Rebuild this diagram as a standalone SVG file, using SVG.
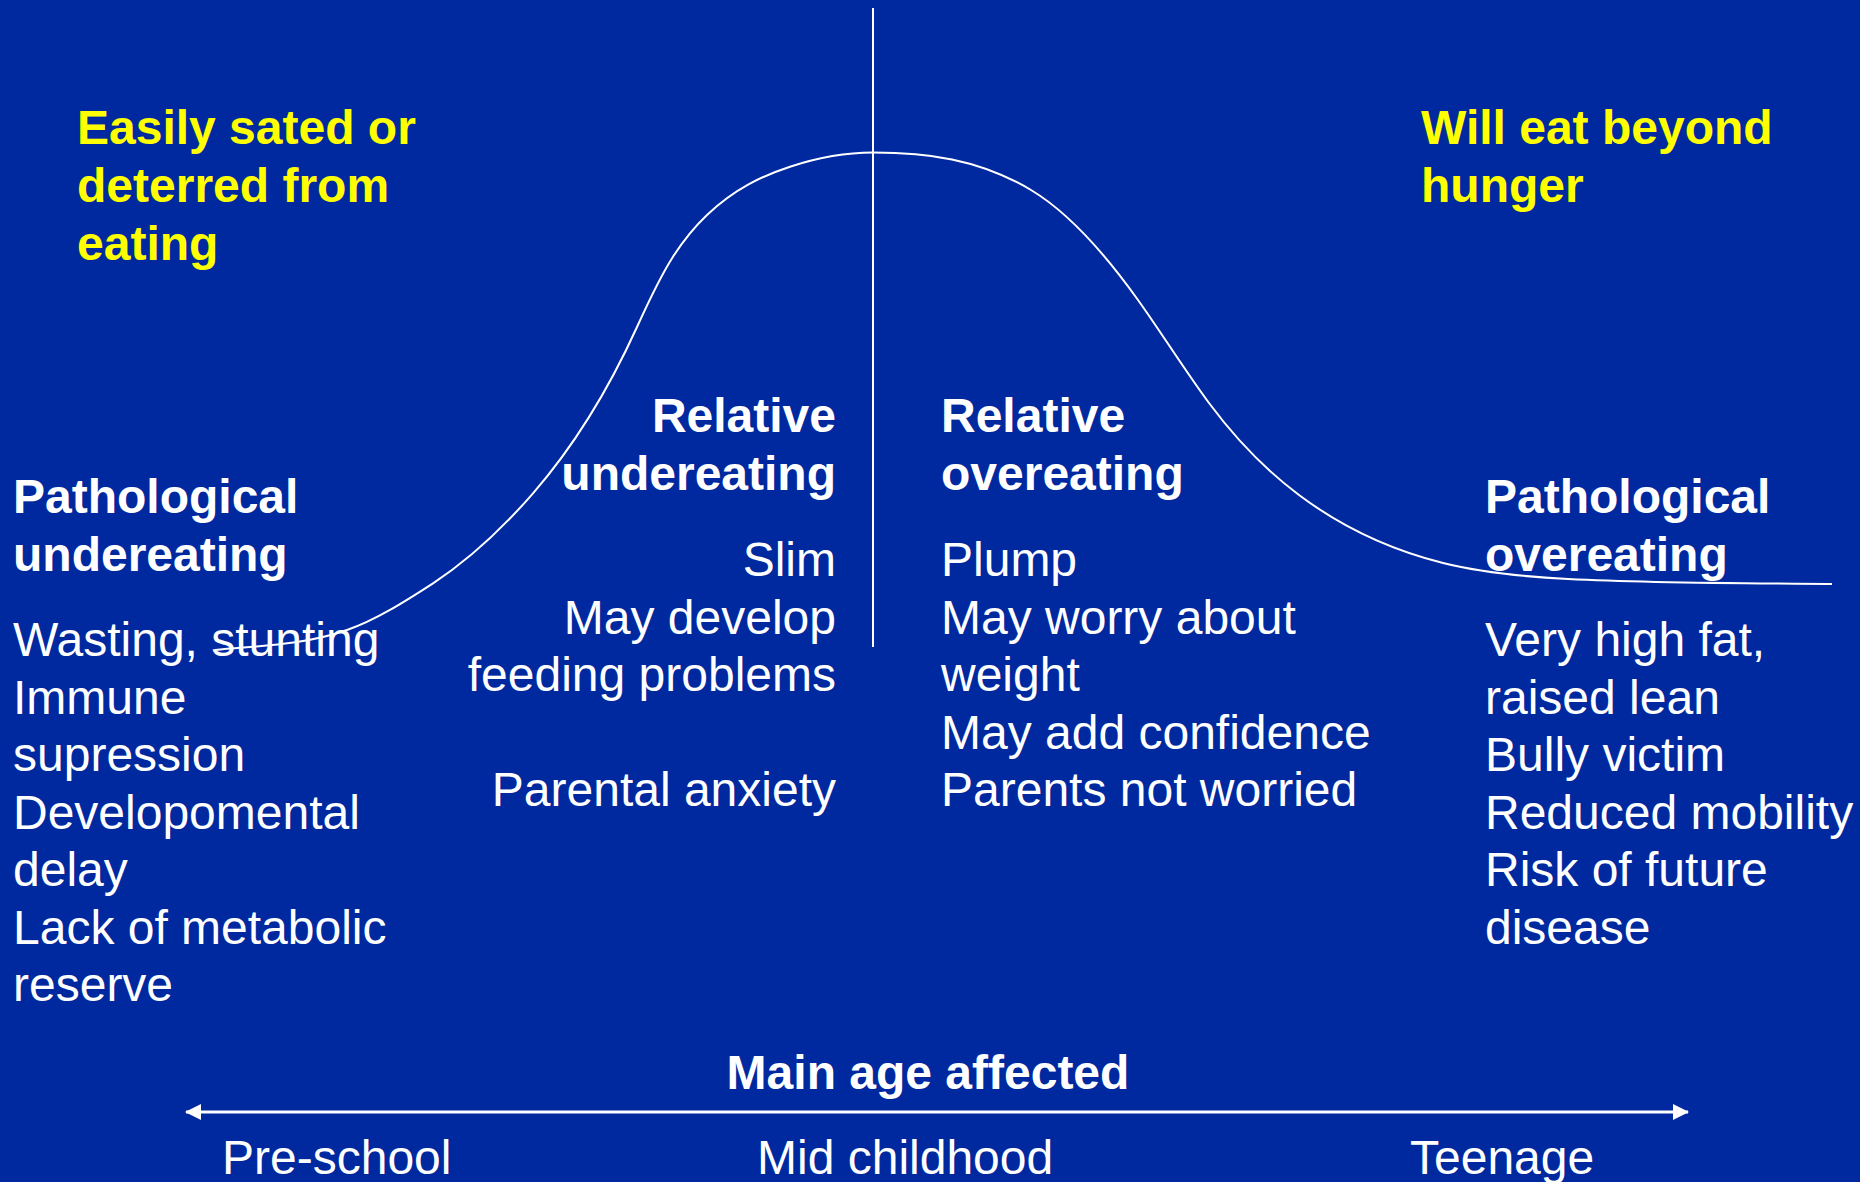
<svg xmlns="http://www.w3.org/2000/svg" width="1860" height="1182" viewBox="0 0 1860 1182">
<style>
text { font-family: "Liberation Sans", Arial, sans-serif; font-size: 48px; fill: #ffffff; }
.b { font-weight: bold; }
.y { fill: #ffff00; font-weight: bold; }
.r { text-anchor: end; }
.ln { fill: none; stroke: #ffffff; stroke-width: 2; }
</style>
<defs>
<marker id="ah" viewBox="0 0 16 16" refX="15" refY="8" markerWidth="16" markerHeight="16" markerUnits="userSpaceOnUse" orient="auto-start-reverse">
<path d="M0,0 L16,8 L0,16 Z" fill="#ffffff"/>
</marker>
</defs>
<rect x="0" y="0" width="1860" height="1182" fill="#0029a0"/>

<g id="connectors">
<path class="ln" d="M215,650 C259,645.6 303,645.4 347,630 C375.7,620 404.3,601.9 433,583.3 C466.3,561.6 499.7,531.6 533,493.3 C567.7,453.4 602.3,403.3 637,327 C649,300.6 661,275.3 673,256.7 C684.3,239.2 695.7,225.7 707,215 C734.7,188.7 762.3,175.8 790,166.7 C817.7,157.6 845.3,152.5 873,152.5 C925.7,152.5 978.3,158.4 1031,190 C1066.7,211.4 1102.3,250 1138,300 C1161.7,333.2 1185.3,371 1209,403 C1239,443.5 1269,472.5 1299,495 C1347,531 1395,551 1443,563 C1484.7,573.4 1526.3,576.9 1568,579 C1656,583.4 1744,583.1 1832,584"/>
<line class="ln" x1="873" y1="8" x2="873" y2="647"/>
<line x1="186" y1="1112" x2="1688" y2="1112" stroke="#ffffff" stroke-width="3" marker-start="url(#ah)" marker-end="url(#ah)"/>
</g>

<g id="sated">
<text class="y" x="77" y="143.5">Easily sated or</text>
<text class="y" x="77" y="201.5">deterred from</text>
<text class="y" x="77" y="259.5">eating</text>
</g>

<g id="beyond">
<text class="y" x="1421" y="143.5">Will eat beyond</text>
<text class="y" x="1421" y="201.5">hunger</text>
</g>

<g id="path-under">
<text class="b" x="13" y="513">Pathological</text>
<text class="b" x="13" y="570.5">undereating</text>
<text x="13" y="656">Wasting, stunting</text>
<text x="13" y="713.5">Immune</text>
<text x="13" y="771">supression</text>
<text x="13" y="828.5">Developomental</text>
<text x="13" y="886">delay</text>
<text x="13" y="943.5">Lack of metabolic</text>
<text x="13" y="1001">reserve</text>
</g>

<g id="rel-under">
<text class="b r" x="836" y="432">Relative</text>
<text class="b r" x="836" y="490">undereating</text>
<text class="r" x="836" y="576">Slim</text>
<text class="r" x="836" y="633.5">May develop</text>
<text class="r" x="836" y="691">feeding problems</text>
<text class="r" x="836" y="806">Parental anxiety</text>
</g>

<g id="rel-over">
<text class="b" x="941" y="432">Relative</text>
<text class="b" x="941" y="490">overeating</text>
<text x="941" y="576">Plump</text>
<text x="941" y="633.5">May worry about</text>
<text x="941" y="691">weight</text>
<text x="941" y="748.5">May add confidence</text>
<text x="941" y="806">Parents not worried</text>
</g>

<g id="path-over">
<text class="b" x="1485" y="513">Pathological</text>
<text class="b" x="1485" y="570.5">overeating</text>
<text x="1485" y="656">Very high fat,</text>
<text x="1485" y="713.5">raised lean</text>
<text x="1485" y="771">Bully victim</text>
<text x="1485" y="828.5">Reduced mobility</text>
<text x="1485" y="886">Risk of future</text>
<text x="1485" y="943.5">disease</text>
</g>

<g id="age-axis">
<text class="b" x="928" y="1089" text-anchor="middle">Main age affected</text>
<text x="222" y="1174">Pre-school</text>
<text x="757" y="1174">Mid childhood</text>
<text x="1410" y="1174">Teenage</text>
</g>
</svg>
